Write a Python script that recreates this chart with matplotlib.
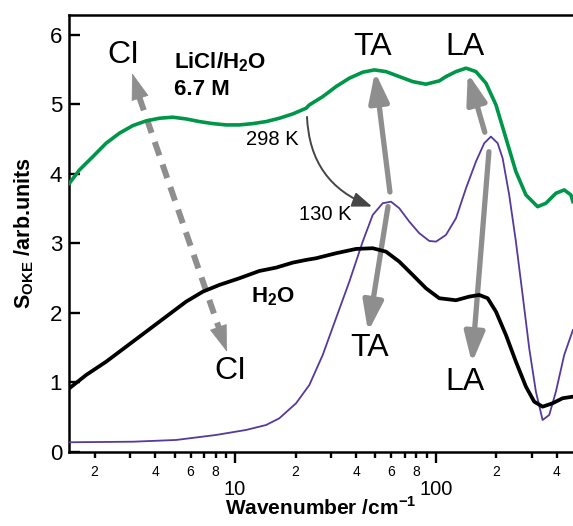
import numpy as np
import matplotlib
matplotlib.use('Agg')
import matplotlib.pyplot as plt
from matplotlib.ticker import LogLocator, FuncFormatter, FixedLocator

plt.rcParams['font.family'] = ['Liberation Sans', 'DejaVu Sans']
plt.rcParams['mathtext.fontset'] = 'custom'
plt.rcParams['mathtext.rm'] = 'Liberation Sans'
plt.rcParams['mathtext.bf'] = 'Liberation Sans:bold'

# LiCl/H2O 6.7 M at 298 K (green)
licl_x = [1.498, 1.680, 1.959, 2.281, 2.657, 3.097, 3.608, 4.202, 4.898, 5.705,
          6.645, 7.745, 9.02, 10.50, 12.25, 14.27, 16.61, 19.37, 22.56, 23.43,
          27.31, 31.80, 37.04, 43.18, 49.32, 56.39, 65.68, 76.58, 89.17, 103.8,
          112.1, 125.8, 141.1, 158.1, 177.4, 198.9, 223.0, 250.0, 280.4, 320.6,
          352.6, 395.4, 434.9, 469.6, 480.5]
licl_y = [3.866, 4.058, 4.249, 4.442, 4.586, 4.695, 4.763, 4.801, 4.816, 4.791,
          4.753, 4.724, 4.705, 4.705, 4.724, 4.753, 4.801, 4.863, 4.945, 4.993,
          5.112, 5.256, 5.377, 5.463, 5.496, 5.472, 5.400, 5.328, 5.291, 5.338,
          5.400, 5.472, 5.521, 5.472, 5.305, 4.993, 4.514, 4.033, 3.698, 3.529,
          3.578, 3.722, 3.770, 3.698, 3.601]

# LiCl/H2O at 130 K (purple)
cold_x = [1.498, 3.097, 5.087, 8.045, 11.34, 14.27, 16.61, 20.12, 23.43, 27.31,
          31.80, 37.04, 43.18, 48.43, 54.30, 59.72, 65.68, 73.66, 82.59, 92.62,
          100.0, 112.1, 125.8, 141.1, 158.1, 173.9, 187.7, 202.8, 214.7, 231.5,
          250.0, 270.0, 291.2, 314.4, 339.5, 366.2, 395.4, 434.9, 480.5]
cold_y = [0.140, 0.148, 0.173, 0.245, 0.317, 0.388, 0.485, 0.701, 0.964, 1.396,
          1.924, 2.450, 3.026, 3.410, 3.578, 3.601, 3.506, 3.314, 3.147, 3.036,
          3.026, 3.122, 3.363, 3.794, 4.177, 4.442, 4.537, 4.442, 4.226, 3.698,
          3.026, 2.259, 1.492, 0.868, 0.460, 0.532, 0.868, 1.396, 1.755]

# neat H2O (black)
water_x = [1.498, 1.814, 2.281, 2.869, 3.608, 4.536, 5.705, 6.909, 8.35, 10.50,
           13.21, 16.0, 19.37, 22.56, 25.29, 31.80, 39.99, 48.43, 56.39, 65.68,
           76.58, 89.17, 103.8, 125.8, 146.5, 164.2, 180.8, 198.9, 223.0, 250.0,
           280.4, 308.3, 339.5, 380.7, 426.9, 480.5]
water_y = [0.917, 1.108, 1.299, 1.515, 1.731, 1.947, 2.163, 2.306, 2.403, 2.499,
           2.604, 2.652, 2.724, 2.763, 2.787, 2.859, 2.921, 2.931, 2.882, 2.738,
           2.547, 2.355, 2.212, 2.183, 2.235, 2.259, 2.212, 2.019, 1.683, 1.299,
           0.940, 0.724, 0.652, 0.701, 0.773, 0.796]

fig = plt.figure(figsize=(5.73, 5.26), dpi=100)
ax = fig.add_axes([0.1204, 0.1407, 0.8796, 0.8313])

grey = '#8e8e8e'
head = '-|>,head_length=1.8,head_width=0.6'

# CI: dashed double arrow
ax.plot([3.33, 8.32], [5.11, 1.78], color=grey, lw=4.3, ls=(0, (2.4, 1.6)),
        solid_capstyle='butt', dash_capstyle='butt', zorder=1)
for tail, tip in [((3.40, 5.05), (3.07, 5.45)), ((8.15, 1.84), (9.12, 1.44))]:
    ax.annotate('', xy=tip, xytext=tail,
                arrowprops=dict(arrowstyle=head, color=grey, lw=0.5,
                                shrinkA=0, shrinkB=0, mutation_scale=10), zorder=1)
# TA and LA arrows
for tail, tip in [((59.0, 3.74), (49.7, 5.47)), ((57.7, 3.53), (45.9, 1.73)),
                  ((175, 4.60), (144, 5.45)), ((183.5, 4.32), (151, 1.28))]:
    ax.annotate('', xy=tip, xytext=tail,
                arrowprops=dict(arrowstyle=head, color=grey, lw=3.8,
                                shrinkA=0, shrinkB=0, mutation_scale=10), zorder=1)

ax.plot(licl_x, licl_y, color='#00964a', lw=2.6, zorder=3)
ax.plot(cold_x, cold_y, color='#56399b', lw=1.3, zorder=3)
ax.plot(water_x, water_y, color='black', lw=2.7, zorder=3)

# 298 K -> 130 K arrow
ax.annotate('', xy=(48.1, 3.53), xytext=(22.8, 4.82),
            arrowprops=dict(arrowstyle='-|>,head_length=1.2,head_width=0.45',
                            color='#454545', lw=1.4, shrinkA=0, shrinkB=0,
                            mutation_scale=10, connectionstyle='arc3,rad=0.33'),
            zorder=2)

big = 23
ax.text(2.77, 5.71, 'CI', fontsize=big, ha='center', va='center')
ax.text(9.44, 1.16, 'CI', fontsize=big, ha='center', va='center')
ax.text(48.6, 5.83, 'TA', fontsize=big, ha='center', va='center')
ax.text(140, 5.83, 'LA', fontsize=big, ha='center', va='center')
ax.text(46.7, 1.50, 'TA', fontsize=big, ha='center', va='center')
ax.text(140, 1.01, 'LA', fontsize=big, ha='center', va='center')
ax.text(4.95, 5.61, r'LiCl/H$_\mathbf{2}$O', fontsize=16, fontweight='bold', va='center')
ax.text(4.95, 5.21, '6.7 M', fontsize=16, fontweight='bold', va='center')
ax.text(15.5, 2.24, r'H$_\mathbf{2}$O', fontsize=16, fontweight='bold', ha='center', va='center')
ax.text(15.3, 4.49, '298 K', fontsize=14.5, ha='center', va='center')
ax.text(28.0, 3.41, '130 K', fontsize=14.5, ha='center', va='center')

ax.set_xscale('log')
ax.set_xlim(1.49, 481)
ax.set_ylim(0, 6.29)

ax.xaxis.set_major_locator(FixedLocator([10, 100]))
ax.xaxis.set_major_formatter(FuncFormatter(lambda v, p: '%d' % v))
ax.xaxis.set_minor_locator(LogLocator(base=10, subs=np.arange(2, 10)))


def minor_label(v, p):
    m = int(round(v / 10 ** np.floor(np.log10(v))))
    return str(m) if m in (2, 4, 6, 8) else ''


ax.xaxis.set_minor_formatter(FuncFormatter(minor_label))
ax.tick_params(axis='x', which='major', direction='out', length=8, width=1.7,
               labelsize=14.5, pad=12.5)
ax.tick_params(axis='x', which='minor', direction='out', length=4.5, width=1.7,
               labelsize=10, pad=5)
ax.set_yticks([0, 1, 2, 3, 4, 5, 6])
ax.tick_params(axis='y', direction='in', length=8, width=1.7, labelsize=16, pad=5)

for s in ['left', 'bottom', 'top']:
    ax.spines[s].set_linewidth(1.8)
ax.spines['right'].set_visible(False)

ax.set_xlabel(r'Wavenumber /cm$^\mathbf{-1}$', fontsize=15, fontweight='bold', labelpad=-2.5)
ax.set_ylabel(r'S$_\mathbf{OKE}$ /arb.units', fontsize=15.5, fontweight='bold', labelpad=10)

fig.savefig('out.png', dpi=100)
